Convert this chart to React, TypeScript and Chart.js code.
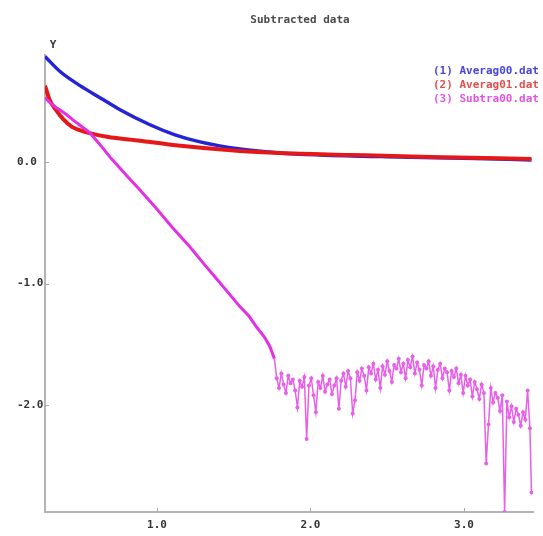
import React, { useEffect, useRef } from "react";
import { Chart, registerables } from "chart.js";

Chart.register(...registerables);

const TITLE = "Subtracted data";
const LEGEND_LABELS = ["(1) Averag00.dat", "(2) Averag01.dat", "(3) Subtra00.dat"];
const X_TICKS = [1, 2, 3];
const Y_TICKS = [0, -1, -2];

const blueX = [0.27, 0.368, 0.498, 0.628, 0.759, 0.954, 1.117, 1.28, 1.54, 1.8, 2.06, 2.58, 3.0, 3.44];
const blueY = [0.868, 0.744, 0.628, 0.529, 0.43, 0.306, 0.223, 0.165, 0.107, 0.074, 0.058, 0.041, 0.03, 0.017];

const redX = [0.27, 0.3, 0.34, 0.387, 0.446, 0.53, 0.674, 0.889, 1.104, 1.54, 1.8, 2.257, 2.78, 3.44];
const redY = [0.628, 0.512, 0.43, 0.355, 0.289, 0.248, 0.207, 0.174, 0.14, 0.091, 0.074, 0.058, 0.041, 0.025];

const subX = [
  0.27, 0.3, 0.34, 0.368, 0.41, 0.452, 0.5, 0.563, 0.65, 0.7, 0.8, 0.889, 1.0, 1.1, 1.215, 1.3, 1.4, 1.54, 1.6,
  1.65, 1.7, 1.736, 1.765,
  1.78, 1.795, 1.81, 1.825, 1.84, 1.855, 1.87, 1.885, 1.9, 1.915, 1.93, 1.945, 1.96, 1.975, 1.99, 2.005, 2.02,
  2.035, 2.05, 2.065, 2.08, 2.095, 2.11, 2.125, 2.14, 2.155, 2.17, 2.185, 2.2, 2.215, 2.23, 2.245, 2.26, 2.275,
  2.29, 2.305, 2.32, 2.335, 2.35, 2.365, 2.38, 2.395, 2.41, 2.425, 2.44, 2.455, 2.47, 2.485, 2.5, 2.515, 2.53,
  2.545, 2.56, 2.575, 2.59, 2.605, 2.62, 2.635, 2.65, 2.665, 2.68, 2.695, 2.71, 2.725, 2.74, 2.755, 2.77, 2.785,
  2.8, 2.815, 2.83, 2.845, 2.86, 2.875, 2.89, 2.905, 2.92, 2.935, 2.95, 2.965, 2.98, 2.995, 3.01, 3.025, 3.04,
  3.055, 3.07, 3.085, 3.1, 3.115, 3.13, 3.145, 3.16, 3.175, 3.19, 3.205, 3.22, 3.235, 3.25, 3.265, 3.28, 3.295,
  3.31, 3.325, 3.34, 3.355, 3.37, 3.385, 3.4, 3.415, 3.43, 3.44,
];
const subY = [
  0.53, 0.49, 0.45, 0.428, 0.39, 0.346, 0.3, 0.239, 0.11, 0.03, -0.11, -0.23, -0.39, -0.54, -0.7, -0.83, -0.98, -1.19, -1.27,
  -1.36, -1.44, -1.52, -1.62,
  -1.78, -1.86, -1.74, -1.83, -1.9, -1.76, -1.82, -1.79, -1.88, -2.02, -1.8, -1.85, -1.77, -2.28, -1.84, -1.78, -1.92,
  -2.06, -1.81, -1.86, -1.76, -1.89, -1.83, -1.79, -1.91, -1.84, -1.78, -2.03, -1.8, -1.74, -1.85, -1.72, -1.78, -2.07,
  -1.96, -1.73, -1.8, -1.7, -1.76, -1.88, -1.69, -1.74, -1.66, -1.79, -1.71, -1.86, -1.68, -1.75, -1.64, -1.72, -1.81,
  -1.67, -1.7, -1.62, -1.73, -1.66, -1.78, -1.63, -1.69, -1.6, -1.74, -1.65, -1.71, -1.84, -1.67, -1.7, -1.64, -1.76,
  -1.68, -1.86, -1.71, -1.66, -1.78, -1.7, -1.73, -1.88, -1.72, -1.77, -1.7, -1.82, -1.75, -1.9, -1.76, -1.84, -1.79,
  -1.93, -1.81, -1.87, -1.95, -1.83, -1.9, -2.48, -2.16, -1.86, -1.98, -1.9, -1.94, -2.05, -1.92, -2.88, -1.97, -2.1,
  -2.01, -2.14, -2.03, -2.08, -2.17, -2.06, -2.12, -1.88, -2.19, -2.72,
];

const BLUE = "rgb(36,36,214)";
const RED = "rgb(228,24,24)";
const MAGENTA = "rgb(228,48,228)";
const MAGENTA_LIGHT = "rgb(232,96,232)";
const LEGEND_COLORS = ["rgb(70,70,222)", "rgb(224,80,80)", "rgb(228,84,228)"];
const FONT = "'DejaVu Sans Mono', monospace";

const toPts = (xs: number[], ys: number[]) => xs.map((x, i) => ({ x, y: ys[i] }));

const decorPlugin = {
  id: "decor",
  afterDraw(chart: any) {
    const { ctx, chartArea, scales } = chart;
    ctx.save();
    ctx.strokeStyle = "#a8a8a8";
    ctx.lineWidth = 1;
    Y_TICKS.forEach((v) => {
      const py = Math.round(scales.y.getPixelForValue(v)) + 0.5;
      ctx.beginPath();
      ctx.moveTo(chartArea.left, py);
      ctx.lineTo(chartArea.left + 4, py);
      ctx.stroke();
    });
    X_TICKS.forEach((v) => {
      const px = Math.round(scales.x.getPixelForValue(v)) + 0.5;
      ctx.beginPath();
      ctx.moveTo(px, chartArea.bottom);
      ctx.lineTo(px, chartArea.bottom - 4);
      ctx.stroke();
    });
    ctx.fillStyle = "#4a4a4a";
    ctx.font = `bold 11px ${FONT}`;
    ctx.textAlign = "center";
    ctx.textBaseline = "middle";
    ctx.fillText(TITLE, 300, 20);
    ctx.fillStyle = "#333";
    ctx.fillText("Y", chartArea.left + 8, chartArea.top - 10);
    ctx.fillText("X", 429, 541);
    ctx.textAlign = "left";
    LEGEND_LABELS.forEach((t, i) => {
      ctx.fillStyle = LEGEND_COLORS[i];
      ctx.fillText(t, 433, 71 + i * 14);
    });
    ctx.restore();
  },
};

export default function App() {
  const ref = useRef<HTMLCanvasElement | null>(null);
  useEffect(() => {
    if (!ref.current) return;
    const chart = new Chart(ref.current, {
      type: "line",
      data: {
        datasets: [
          {
            label: LEGEND_LABELS[2],
            data: toPts(subX, subY),
            borderColor: MAGENTA,
            backgroundColor: MAGENTA_LIGHT,
            borderWidth: 3,
            pointRadius: (c: any) => (c.raw && c.raw.x >= 1.77 ? 2 : 0),
            pointBorderWidth: 0,
            tension: 0,
            order: 0,
            segment: {
              borderWidth: (c: any) => (c.p0.parsed.x >= 1.765 ? 1.5 : 3),
              borderColor: (c: any) => (c.p0.parsed.x >= 1.765 ? MAGENTA_LIGHT : MAGENTA),
            },
          },
          {
            label: LEGEND_LABELS[1],
            data: toPts(redX, redY),
            borderColor: RED,
            borderWidth: 4,
            pointRadius: 0,
            cubicInterpolationMode: "monotone",
            order: 1,
          },
          {
            label: LEGEND_LABELS[0],
            data: toPts(blueX, blueY),
            borderColor: BLUE,
            borderWidth: 3.5,
            pointRadius: 0,
            cubicInterpolationMode: "monotone",
            order: 2,
          },
        ],
      },
      options: {
        responsive: false,
        animation: false,
        layout: { padding: { left: 17, top: 55, right: 10, bottom: 0 } },
        plugins: {
          legend: { display: false },
          title: { display: false },
          tooltip: { enabled: false },
        },
        scales: {
          x: {
            type: "linear",
            min: 0.27,
            max: 3.45,
            grid: { display: false, drawTicks: false },
            border: { display: true, color: "#b4b4b4", width: 2 },
            ticks: {
              color: "#333",
              font: { family: FONT, size: 11, weight: "bold" },
              padding: 7,
              callback: (v: any) => Number(v).toFixed(1),
            },
            afterBuildTicks: (s: any) => {
              s.ticks = X_TICKS.map((v) => ({ value: v }));
            },
            afterFit: (s: any) => {
              s.height = 24;
            },
          },
          y: {
            type: "linear",
            min: -2.88,
            max: 0.88,
            grid: { display: false, drawTicks: false },
            border: { display: true, color: "#b4b4b4", width: 2 },
            ticks: {
              color: "#333",
              crossAlign: "far",
              padding: 0,
              font: { family: FONT, size: 11, weight: "bold" },
              callback: (v: any) => Number(v).toFixed(1),
            },
            afterBuildTicks: (s: any) => {
              s.ticks = Y_TICKS.map((v) => ({ value: v }));
            },
            afterFit: (s: any) => {
              s.width = 28;
            },
          },
        },
      } as any,
      plugins: [decorPlugin],
    } as any);
    return () => chart.destroy();
  }, []);
  return (
    <div style={{ position: "fixed", left: 0, top: 0, width: 543, height: 536, background: "#fff" }}>
      <canvas ref={ref} width={543} height={536} style={{ display: "block" }} />
    </div>
  );
}
